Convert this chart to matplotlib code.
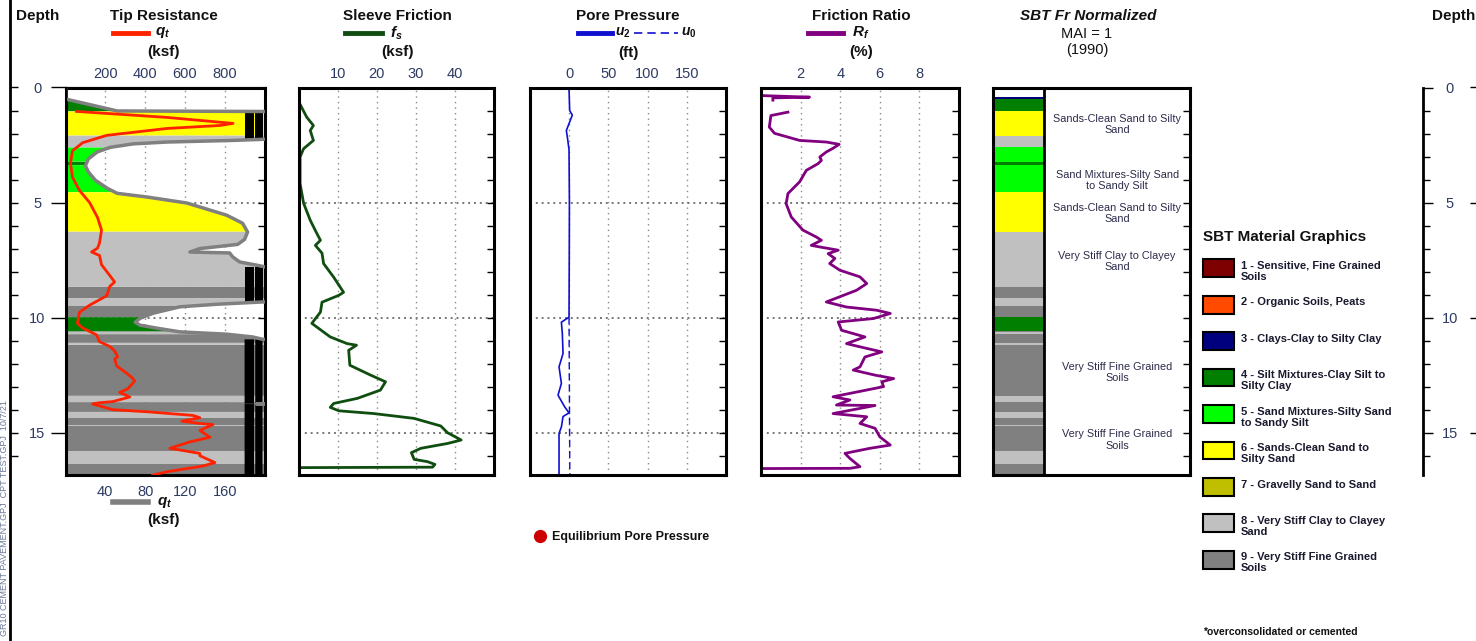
import numpy as np
import matplotlib
matplotlib.use('Agg')
import matplotlib.pyplot as plt
from matplotlib.lines import Line2D

plt.rcParams['font.family'] = 'Liberation Sans'
plt.rcParams['mathtext.fontset'] = 'custom'
plt.rcParams['mathtext.rm'] = 'Liberation Sans:bold'
plt.rcParams['mathtext.it'] = 'Liberation Sans:italic:bold'
plt.rcParams['mathtext.bf'] = 'Liberation Sans:bold'

nan = np.nan

# ---------------- data read off the log ----------------
# tip resistance qt (ksf), top scale
qt_depth = [0.0, 0.38, 0.39, 1.04, 1.3, 1.56, 1.65, 1.78, 2.08, 2.4, 2.75, 3.3, 3.9, 4.47, 5.0,
            5.65, 6.2, 6.75, 6.98, 7.15, 7.3, 7.7, 8.05, 8.45, 8.65, 9.05, 9.15, 9.46, 9.77, 10.25,
            10.45, 10.75, 11.05, 11.25, 11.45, 11.7, 11.8, 12.1, 12.35, 12.6, 12.75, 12.9, 13.1, 13.25, 13.45,
            13.65, 13.7, 13.75, 14.0, 14.1, 14.25, 14.35, 14.5, 14.6, 14.65, 14.9, 15.2, 15.4, 15.68, 15.9,
            16.0, 16.3, 16.45, 16.7, 16.85]
qt = [3, 3, nan, 55, 510, 842, 776, 510, 207, 86, 35, 25, 35, 70, 121,
      161, 181, 171, 161, 131, 171, 181, 212, 247, 222, 207, 186, 121, 70, 60,
      86, 156, 171, 222, 247, 262, 247, 257, 297, 333, 348, 333, 312, 272, 323,
      237, 171, 136, 237, 423, 640, 675, 585, 675, 741, 675, 726, 625, 524, 675,
      675, 751, 690, 509, 438]

# grey qt on the bottom scale (250 = off scale)
qtn_depth = [0.5, 1.02, 1.05, 2.18, 2.25, 2.3, 2.37, 2.45, 2.6, 2.8, 3.1, 3.4, 3.67, 4.03, 4.38,
             4.6, 4.76, 5.02, 5.55, 5.9, 6.28, 6.6, 6.82, 7.0, 7.15, 7.19, 7.36, 7.58, 7.72, 7.81,
             7.9, 9.25, 9.32, 9.42, 9.53, 9.81, 10.03, 10.2, 10.33, 10.46, 10.62, 10.72, 10.84, 10.94, 11.0,
             13.7, 13.75, 13.8, 16.84]
qtn = [0, 52, 250, 250, 200, 168, 102, 68, 45, 32, 23, 20, 23, 30, 42,
       52, 82, 122, 162, 178, 183, 180, 173, 135, 125, 165, 168, 175, 192, 202,
       250, 250, 198, 152, 115, 88, 75, 70, 75, 92, 115, 162, 188, 198, 250,
       250, 192, 250, 250]

# sleeve friction fs (ksf)
fs_depth = [0.6, 1.29, 1.65, 1.87, 2.3, 2.66, 3.02, 4.17, 5.03, 5.77, 6.35, 6.64, 6.86, 7.2, 7.65,
            8.25, 8.9, 9.03, 9.33, 9.76, 10.25, 10.84, 11.13, 11.2, 11.42, 12.07, 12.5, 12.79, 13.15, 13.51,
            13.73, 13.9, 14.05, 14.17, 14.38, 14.71, 15.0, 15.32, 15.47, 15.68, 15.87, 16.16, 16.26, 16.38, 16.5,
            16.52]
fs = [0, 2.1, 3.8, 3.0, 3.8, 1.3, 0.4, 0.4, 1.3, 3.0, 4.7, 5.6, 4.3, 6.0, 6.4,
      9.0, 11.5, 10.3, 6.0, 5.6, 3.4, 8.1, 12.4, 14.8, 12.8, 13.1, 18.4, 22.2, 20.9, 15.0,
      9.0, 8.1, 10.3, 19.2, 29.5, 36.3, 38.0, 41.5, 38.0, 31.2, 28.8, 29.5, 32.9, 34.8, 34.2,
      0]

# pore pressure (ft)
u2_depth = [0.05, 1.0, 1.2, 1.5, 1.87, 2.16, 2.7, 5.0, 7.5, 9.98, 10.2, 10.7, 11.56, 12.14, 12.86,
            13.37, 13.88, 14.14, 14.3, 14.75, 15.03, 16.8]
u2 = [0, 0.8, 4.2, 0.8, -3.4, -2.1, 0, 0.5, 0.3, 0, -9.7, -8.5, -7.6, -12.7, -9.7,
      -14, -5.5, 0, -7.6, -9.7, -12.7, -12.7]
u0_depth = [10.0, 16.8]
u0 = [0, 1.0]

# friction ratio Rf (%)
rf_depth = [0.35, 0.42, 0.45, 0.55, 0.56, 1.07, 1.22, 1.72, 1.99, 2.3, 2.37, 2.47, 2.66, 2.8, 3.02,
            3.17, 3.31, 3.6, 4.1, 4.61, 5.05, 5.63, 6.2, 6.5, 6.64, 6.86, 6.93, 7.07, 7.22, 7.43,
            7.65, 7.94, 8.23, 8.52, 8.81, 9.32, 9.54, 9.68, 9.82, 10.04, 10.19, 10.55, 10.84, 11.13, 11.27,
            11.49, 11.71, 12.14, 12.28, 12.5, 12.65, 12.79, 13.0, 13.44, 13.58, 13.8, 13.82, 14.17, 14.31, 14.6,
            14.81, 15.18, 15.54, 15.68, 15.9, 16.12, 16.48, 16.55, 16.56]
rf = [0, 2.45, 0.6, 0.6, nan, 1.36, 0.5, 0.42, 0.68, 1.95, 3.3, 3.95, 3.6, 3.3, 2.97,
      3.05, 2.88, 2.29, 1.95, 1.36, 1.27, 1.53, 2.12, 2.8, 3.05, 2.54, 2.97, 3.9, 3.39, 3.73,
      3.47, 3.98, 5.0, 5.34, 4.83, 3.3, 4.32, 5.85, 6.53, 5.68, 3.9, 4.07, 5.25, 4.32, 5.0,
      6.1, 5.25, 5.0, 4.66, 5.76, 6.7, 6.1, 6.19, 3.64, 4.49, 3.81, 5.76, 3.64, 5.34, 5.0,
      5.76, 6.0, 6.53, 5.5, 4.24, 4.49, 5.0, 4.49, 0]

# SBT layers (top depth, zone number)
layer_top = [0.4, 0.48, 1.04, 2.09, 2.6, 3.22, 3.37, 4.55, 6.27, 8.67, 9.15, 9.48, 9.98, 10.6, 10.64,
             10.72, 11.1, 11.17, 13.4, 13.67, 14.1, 14.37, 14.67, 14.73, 15.8, 16.35]
layer_zone = [3, 4, 6, 8, 5, 4, 5, 6, 8, 9, 8, 9, 4, 9, 8,
              9, 8, 9, 8, 9, 8, 9, 8, 9, 8, 9]

sbt_label_depth = [1.6, 4.04, 5.47, 7.55, 12.37, 15.32]
sbt_label_text = ['Sands-Clean Sand to Silty\nSand', 'Sand Mixtures-Silty Sand\nto Sandy Silt',
                  'Sands-Clean Sand to Silty\nSand', 'Very Stiff Clay to Clayey\nSand',
                  'Very Stiff Fine Grained\nSoils', 'Very Stiff Fine Grained\nSoils']

zone_names = ['1 - Sensitive, Fine Grained\nSoils', '2 - Organic Soils, Peats',
              '3 - Clays-Clay to Silty Clay', '4 - Silt Mixtures-Clay Silt to\nSilty Clay',
              '5 - Sand Mixtures-Silty Sand\nto Sandy Silt', '6 - Sands-Clean Sand to\nSilty Sand',
              '7 - Gravelly Sand to Sand', '8 - Very Stiff Clay to Clayey\nSand',
              '9 - Very Stiff Fine Grained\nSoils']
zone_colors = ['#7f0000', '#ff4a00', '#00007f', '#007f00', '#00ff00', '#ffff00', '#bfbf00', '#c0c0c0', '#808080']

depth_ticks = [0, 5, 10, 15]

# ---------------- layout ----------------
W, H = 1476, 641
TOP, BOT = 87.5, 475.0
DMAX = 16.84
TICK_C = '#2d3a63'
HEAD_C = '#111111'
RED, GREEN, BLUE, PURPLE, GREY = '#ff2200', '#104e10', '#1010d0', '#800080', '#808080'

fig = plt.figure(figsize=(W / 100, H / 100), dpi=100)


def px_axes(x0, x1, y0=TOP, y1=BOT):
    return fig.add_axes([x0 / W, 1 - y1 / H, (x1 - x0) / W, (y1 - y0) / H])


def px_text(x, y, s, **kw):
    kw.setdefault('color', HEAD_C)
    kw.setdefault('ha', 'center')
    kw.setdefault('va', 'center')
    fig.text(x / W, 1 - y / H, s, **kw)


def px_line(x0, x1, y, **kw):
    fig.add_artist(Line2D([x0 / W, x1 / W], [1 - y / H] * 2, transform=fig.transFigure, **kw))


def depth_at(y):
    return (y - TOP) / (BOT - TOP) * DMAX


def log_panel(x0, x1, xlim, xticks):
    ax = px_axes(x0, x1)
    ax.set_ylim(DMAX, 0)
    ax.set_xlim(*xlim)
    ax.set_yticks(depth_ticks)
    ax.set_yticks(np.arange(1, 17), minor=True)
    ax.tick_params(axis='y', which='both', left=False, right=True, labelleft=False,
                   direction='in', length=5, width=1)
    ax.xaxis.tick_top()
    ax.set_xticks(xticks)
    ax.tick_params(axis='x', length=0, pad=5, labelsize=10.5, labelcolor=TICK_C)
    ax.grid(axis='x', ls=(0, (1, 3)), color='#8a8a8a', lw=1)
    ax.grid(axis='y', ls=(0, (1, 2)), color='#777777', lw=1.4)
    ax.set_axisbelow(True)
    for sp in ax.spines.values():
        sp.set_linewidth(2.2)
    return ax


# ---- panel 1: tip resistance ----
ax1 = log_panel(65.5, 264.5, (0, 200), [40, 80, 120, 160])
ax1.xaxis.tick_bottom()
ax1.tick_params(axis='x', pad=7)

z = np.linspace(0, DMAX, 4000)
qz = np.interp(z, qtn_depth, qtn)
idx = np.searchsorted(layer_top, z, side='right') - 1
zz = np.where(idx >= 0, np.array(layer_zone)[np.clip(idx, 0, None)], 0)
for k in range(1, 10):
    m = zz == k
    if m.any():
        ax1.fill_betweenx(z, 0, qz, where=m, color=zone_colors[k - 1], lw=0, zorder=1)
off = qz > 200
ax1.fill_betweenx(z, 180, 189.5, where=off, color='black', lw=0, zorder=2)
ax1.fill_betweenx(z, 190.7, 198, where=off, color='black', lw=0, zorder=2)
ax1.plot(qtn, qtn_depth, color=GREY, lw=2.5, zorder=3)

ax1t = ax1.twiny()
ax1t.set_xlim(0, 1000)
ax1t.set_xticks([200, 400, 600, 800])
ax1t.tick_params(axis='x', length=0, pad=5, labelsize=10.5, labelcolor=TICK_C)
ax1t.plot(qt, qt_depth, color=RED, lw=2)

# ---- panel 2: sleeve friction ----
ax2 = log_panel(298.5, 494.5, (0, 50), [10, 20, 30, 40])
ax2.plot(fs, fs_depth, color=GREEN, lw=2)

# ---- panel 3: pore pressure ----
ax3 = log_panel(529.7, 726.3, (-50, 200), [0, 50, 100, 150])
ax3.plot(u0, u0_depth, color=BLUE, lw=1, ls=(0, (5, 3)))
ax3.plot(u2, u2_depth, color=BLUE, lw=1.2)

# ---- panel 4: friction ratio ----
ax4 = log_panel(761, 959, (0, 10), [2, 4, 6, 8])
ax4.plot(rf, rf_depth, color=PURPLE, lw=2)

# ---- panel 5: SBT column ----
ax5 = px_axes(993, 1190)
ax5.set_ylim(DMAX, 0)
ax5.set_xlim(0, 1)
tops = np.array(layer_top)
bots = np.append(tops[1:], DMAX)
ax5.barh(tops, 0.26, height=bots - tops, left=0, align='edge',
         color=[zone_colors[k - 1] for k in layer_zone], lw=0)
ax5.axvline(0.26, color='black', lw=2)
for d, s in zip(sbt_label_depth, sbt_label_text):
    ax5.text(0.63, d, s, ha='center', va='center', fontsize=7.8, color='#2b2b4b', linespacing=1.15)
ax5.set_xticks([])
ax5.set_yticks(depth_ticks)
ax5.set_yticks(np.arange(1, 17), minor=True)
ax5.tick_params(axis='y', which='both', left=False, right=True, labelleft=False,
                direction='in', length=5, width=1)
for sp in ax5.spines.values():
    sp.set_linewidth(2.2)

# ---- left depth axis ----
axL = fig.add_axes([10 / W, 0, 56 / W, 1])
axL.set_ylim(depth_at(H), depth_at(0))
axL.patch.set_visible(False)
for name, sp in axL.spines.items():
    sp.set_visible(name == 'left')
axL.spines['left'].set_linewidth(2)
axL.set_xticks([])
axL.set_yticks(depth_ticks)
axL.set_yticks(np.arange(1, 17), minor=True)
axL.tick_params(axis='y', which='both', direction='in', length=6, width=1,
                labelsize=10.5, labelcolor=TICK_C, pad=-19.8)
for lab in axL.get_yticklabels():
    lab.set_horizontalalignment('center')
axL2 = axL.twinx()
axL2.set_ylim(axL.get_ylim())
axL2.set_yticks(depth_ticks)
axL2.tick_params(axis='y', direction='in', length=11, width=1, labelright=False)
for sp in axL2.spines.values():
    sp.set_visible(False)

# ---- right depth axis ----
axR = px_axes(1423, 1477)
axR.set_ylim(DMAX, 0)
axR.patch.set_visible(False)
for name, sp in axR.spines.items():
    sp.set_visible(name == 'left')
axR.spines['left'].set_linewidth(2)
axR.set_xticks([])
axR.set_yticks(depth_ticks)
axR.set_yticks(np.arange(1, 17), minor=True)
axR.tick_params(axis='y', which='both', direction='in', length=5, width=1,
                labelsize=10.5, labelcolor=TICK_C, pad=-19.4)
axR.tick_params(axis='y', which='major', length=7)
for lab in axR.get_yticklabels():
    lab.set_horizontalalignment('center')
axR2 = axR.twinx()
axR2.set_ylim(DMAX, 0)
axR2.set_yticks(depth_ticks)
axR2.tick_params(axis='y', direction='in', length=5, width=1, labelright=False)
for sp in axR2.spines.values():
    sp.set_visible(False)

# ---- headers ----
bold = dict(fontsize=11, fontweight='bold')
px_text(37.5, 16, 'Depth', **bold)
px_text(1454, 16, 'Depth', **bold)

px_text(164, 16, 'Tip Resistance', **bold)
px_line(113, 148, 33, color=RED, lw=3.5)
px_text(155, 33, r'$q_t$', ha='left', fontsize=11)
px_text(164, 52, '(ksf)', **bold)

px_text(397, 16, 'Sleeve Friction', **bold)
px_line(345, 382, 33, color=GREEN, lw=3.5)
px_text(390, 33, r'$f_s$', ha='left', fontsize=11)
px_text(397, 52, '(ksf)', **bold)

px_text(628, 16, 'Pore Pressure', **bold)
px_line(578, 612, 33, color=BLUE, lw=3.5)
px_text(615, 33, r'$u_2$', ha='left', fontsize=10)
px_line(634, 678, 33, color=BLUE, lw=1.2, ls=(0, (5, 3)))
px_text(681, 33, r'$u_0$', ha='left', fontsize=10)
px_text(628, 53, '(ft)', **bold)

px_text(861, 16, 'Friction Ratio', **bold)
px_line(808, 843, 33, color=PURPLE, lw=3.5)
px_text(852, 33, r'$R_f$', ha='left', fontsize=11)
px_text(861, 52, '(%)', **bold)

px_text(1088, 16, 'SBT Fr Normalized', fontsize=11, fontweight='bold', fontstyle='italic')
px_text(1087, 34, 'MAI = 1', fontsize=10.5)
px_text(1087, 50, '(1990)', fontsize=10.5)

# bottom scale of panel 1
px_line(113, 148, 502, color=GREY, lw=4)
px_text(157, 502, r'$q_t$', ha='left', fontsize=11)
px_text(164, 520, '(ksf)', **bold)

# equilibrium pore pressure key
fig.add_artist(Line2D([540 / W], [1 - 536 / H], marker='o', ms=8.5, color='#cc0000', lw=0,
                      transform=fig.transFigure))
px_text(552, 537, 'Equilibrium Pore Pressure', ha='left', fontsize=9, fontweight='bold')

# ---- SBT legend ----
px_text(1203, 237, 'SBT Material Graphics', ha='left', **bold)
axLeg = px_axes(1200, 1420, 250, 578)
axLeg.set_xlim(0, 220)
axLeg.set_ylim(9, 0)
axLeg.axis('off')
rows = np.arange(9) + 0.5
axLeg.barh(rows, 31, left=3, height=0.49, color=zone_colors, edgecolor='black', lw=1.5)
for r, s in zip(rows, zone_names):
    axLeg.text(41, r - 0.2, s, ha='left', va='top', fontsize=8, fontweight='bold',
               color='#1a1a2e', linespacing=1.1)
px_text(1203, 632, '*overconsolidated or cemented', ha='left', fontsize=7.5, fontweight='bold')

# file stamp on the left margin
px_text(4.5, 636, 'GR10 CEMENT PAVEMENT.GPJ  CPT TEST.GPJ  10/7/21', va='bottom', rotation=90,
        fontsize=6.5, color='#6b7a99')

fig.savefig('out.png', dpi=100)
